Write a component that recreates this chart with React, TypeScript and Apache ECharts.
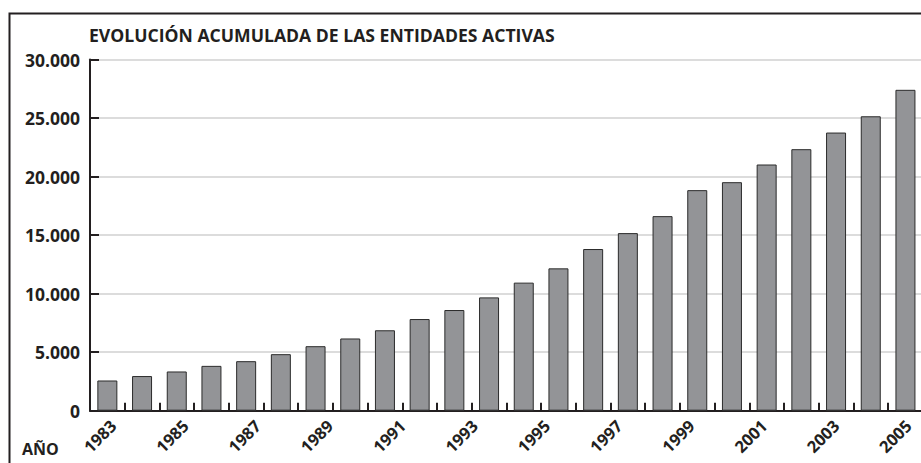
import React, { useEffect, useRef } from "react";
import * as echarts from "echarts";

const years = [
  "1983", "1984", "1985", "1986", "1987", "1988", "1989", "1990",
  "1991", "1992", "1993", "1994", "1995", "1996", "1997", "1998",
  "1999", "2000", "2001", "2002", "2003", "2004", "2005", "2006",
];
const entidades = [
  2580, 2960, 3350, 3830, 4230, 4830, 5510, 6170,
  6870, 7830, 8600, 9680, 10940, 12160, 13810, 15170,
  16620, 18840, 19520, 21030, 22340, 23760, 25150, 27410,
];
const yearLabels = [1983, 1985, 1987, 1989, 1991, 1993, 1995, 1997, 1999, 2001, 2003, 2005];
const yMin = 0;
const yMax = 30000;
const yStep = 5000;
const title = "EVOLUCIÓN ACUMULADA DE LAS ENTIDADES ACTIVAS";
const axisName = "AÑO";

const INK = "#231f20";
const FONT = "Open Sans";

// The original figure is cropped on its right and bottom edges: the chart
// canvas is drawn larger than the visible 921x463 window and clipped.
const CANVAS_W = 960;
const CANVAS_H = 500;

function fmtThousands(v: number): string {
  return String(Math.round(v)).replace(/\B(?=(\d{3})+(?!\d))/g, ".");
}

export default function App() {
  const ref = useRef<HTMLDivElement>(null);
  useEffect(() => {
    if (!ref.current) return;
    const chart = echarts.init(ref.current, null, { renderer: "svg" });
    chart.setOption({
      animation: false,
      backgroundColor: "#ffffff",
      title: {
        text: title,
        left: 89,
        top: 25.5,
        padding: 0,
        textStyle: { fontFamily: FONT, fontWeight: "bold", fontSize: 17.6, color: INK },
      },
      graphic: [
        {
          type: "rect",
          shape: { x: 9.5, y: 13.5, width: 940, height: 476 },
          style: { fill: "none", stroke: INK, lineWidth: 2 },
          silent: true,
        },
        {
          type: "text",
          x: 22,
          y: 449,
          style: {
            text: axisName,
            font: `bold 16px "${FONT}"`,
            fill: INK,
            verticalAlign: "middle",
          },
        },
      ],
      grid: { left: 90, right: CANVAS_W - 922.8, top: 59.5, bottom: CANVAS_H - 410.7, containLabel: false },
      xAxis: [
        {
          type: "category",
          data: years,
          boundaryGap: true,
          axisLine: { show: true, lineStyle: { color: INK, width: 2 } },
          axisTick: { show: true, inside: true, length: 8, interval: 0, lineStyle: { color: INK, width: 2 } },
          axisLabel: { show: false },
          splitLine: { show: false },
        },
        {
          type: "value",
          position: "bottom",
          min: 1982.364,
          max: 2005.4,
          axisLine: { show: false },
          axisTick: { show: false },
          splitLine: { show: false },
          axisLabel: {
            customValues: yearLabels,
            rotate: 45,
            margin: 12,
            fontFamily: FONT,
            fontWeight: "bold",
            fontSize: 16.5,
            color: INK,
            formatter: (v: number) => String(v),
          },
        },
      ],
      yAxis: {
        type: "value",
        min: yMin,
        max: yMax,
        interval: yStep,
        axisLine: { show: true, lineStyle: { color: INK, width: 2 } },
        axisTick: { show: true, inside: true, length: 9, lineStyle: { color: INK, width: 2 } },
        splitLine: { show: true, lineStyle: { color: "#dcdcdc", width: 2 } },
        axisLabel: {
          margin: 10,
          fontFamily: FONT,
          fontWeight: "bold",
          fontSize: 17.5,
          color: INK,
          formatter: (v: number) => fmtThousands(v),
        },
      },
      series: [
        {
          type: "bar",
          xAxisIndex: 0,
          data: entidades,
          barWidth: 20,
          itemStyle: { color: "#939497", borderColor: "#2b2b2b", borderWidth: 1 },
        },
      ],
    });
    return () => chart.dispose();
  }, []);
  return (
    <div style={{ position: "fixed", left: 0, top: 0, width: 921, height: 463, overflow: "hidden", background: "#fff" }}>
      <div ref={ref} style={{ width: CANVAS_W, height: CANVAS_H }} />
    </div>
  );
}
